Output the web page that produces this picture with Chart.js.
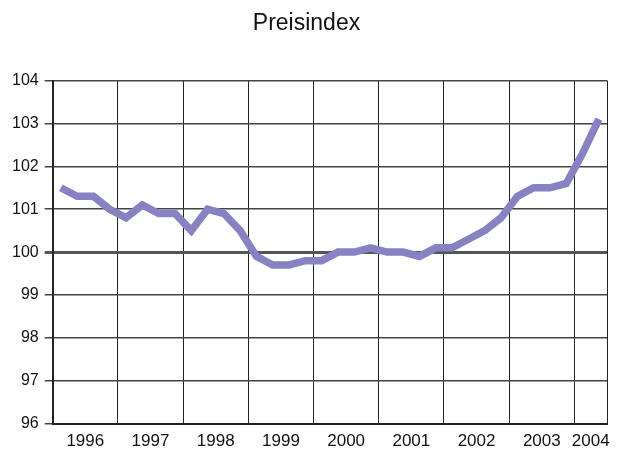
<!DOCTYPE html>
<html>
<head>
<meta charset="utf-8">
<script src="https://cdn.jsdelivr.net/npm/chart.js@4/dist/chart.umd.min.js"></script>
<style>
  html, body { margin: 0; padding: 0; background: #fff; }
  #wrap { width: 618px; height: 452px; }
</style>
</head>
<body>
<div id="wrap"><canvas id="priceChart" width="618" height="452"></canvas></div>
<script>
// quarterly index values, 1996 Q1 .. 2004 Q2
var yearLabels = ["1996", "1997", "1998", "1999", "2000", "2001", "2002", "2003", "2004"];
var quarterValues = [
  101.5, 101.3, 101.3, 101.0,   // 1996
  100.8, 101.1, 100.9, 100.9,   // 1997
  100.5, 101.0, 100.9, 100.5,   // 1998
   99.9,  99.7,  99.7,  99.8,   // 1999
   99.8, 100.0, 100.0, 100.1,   // 2000
  100.0, 100.0,  99.9, 100.1,   // 2001
  100.1, 100.3, 100.5, 100.8,   // 2002
  101.3, 101.5, 101.5, 101.6,   // 2003
  102.3, 103.1                  // 2004
];
var yTicks = [96, 97, 98, 99, 100, 101, 102, 103, 104];

var points = quarterValues.map(function (v, i) { return { x: i + 0.5, y: v }; });
var nQ = quarterValues.length;

Chart.defaults.font.family = "'Liberation Sans', Arial, sans-serif";
Chart.defaults.color = "#111";

new Chart("priceChart", {
  type: "line",
  data: {
    datasets: [{
      data: points,
      borderColor: "#8782c1",
      borderWidth: 7.5,
      pointRadius: 0,
      tension: 0,
      borderJoinStyle: "miter",
      borderCapStyle: "butt"
    }]
  },
  options: {
    responsive: false,
    animation: false,
    layout: { padding: { left: 6, right: 11, top: 0, bottom: -8 } },
    plugins: {
      legend: { display: false },
      tooltip: { enabled: false },
      title: {
        display: true,
        text: "Preisindex",
        font: { size: 23, weight: "normal" },
        color: "#111",
        padding: { top: 10, bottom: 43 }
      }
    },
    scales: {
      x: {
        type: "linear",
        min: 0,
        max: nQ,
        afterBuildTicks: function (scale) {
          var t = [];
          for (var q = 0; q <= 32; q += 2) t.push({ value: q });
          t.push({ value: 33 });
          t.push({ value: nQ });
          scale.ticks = t;
        },
        ticks: {
          autoSkip: false,
          maxRotation: 0,
          padding: 8,
          font: { size: 17 },
          callback: function (v) {
            if (v === 33) return yearLabels[8];
            if (v < 32 && v % 4 === 2) return yearLabels[(v - 2) / 4];
            return "";
          }
        },
        grid: {
          drawTicks: false,
          lineWidth: 1,
          color: function (ctx) {
            var v = ctx.tick ? ctx.tick.value : 0;
            return (v % 4 === 0 || v === nQ) ? "#222" : "rgba(0,0,0,0)";
          }
        },
        border: { display: true, color: "#222", width: 2 }
      },
      y: {
        min: 96,
        max: 104,
        afterBuildTicks: function (scale) {
          scale.ticks = yTicks.map(function (v) { return { value: v }; });
        },
        ticks: { font: { size: 16 }, padding: 6, color: "#111" },
        grid: {
          drawTicks: true,
          tickLength: 8,
          lineWidth: function (ctx) { return ctx.tick && ctx.tick.value === 100 ? 3 : 1.5; },
          color: function (ctx) { return ctx.tick && ctx.tick.value === 100 ? "#555" : "#444"; }
        },
        border: { display: true, color: "#222", width: 2 }
      }
    }
  }
});
</script>
</body>
</html>
